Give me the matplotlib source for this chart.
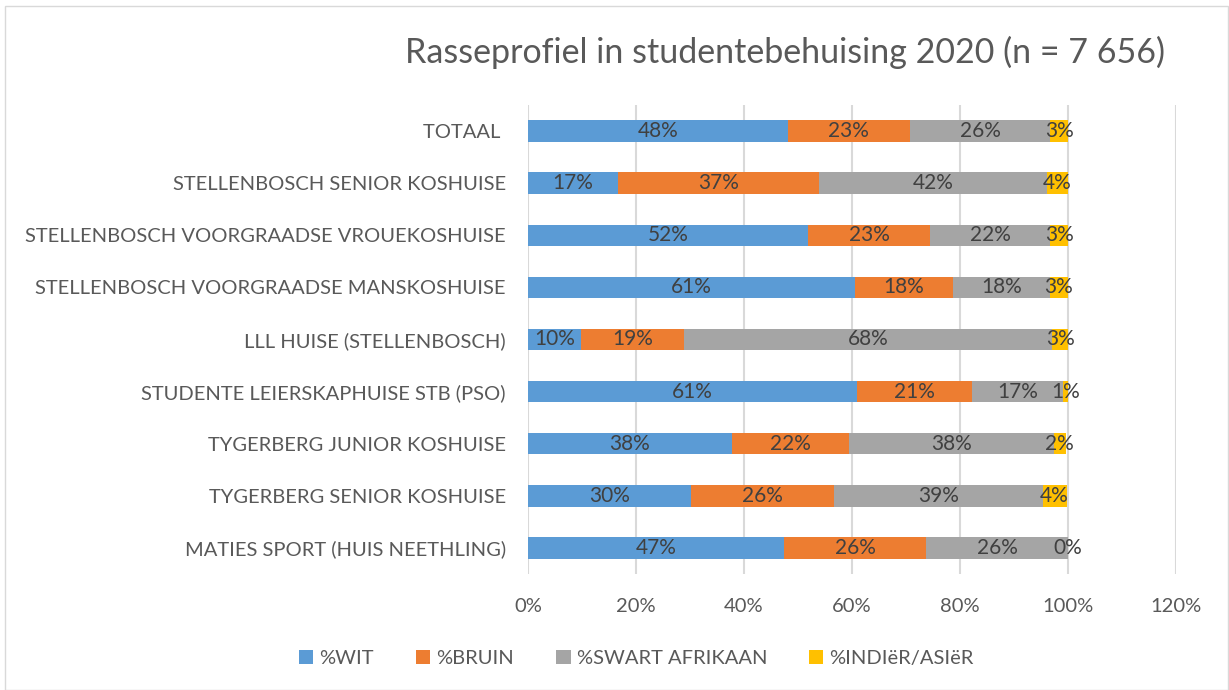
import matplotlib
matplotlib.use('Agg')
import matplotlib.pyplot as plt
import numpy as np

plt.rcParams['font.family'] = ['Lato', 'DejaVu Sans']

# koshuise, van bo na onder
koshuise = [
    'TOTAAL ',
    'STELLENBOSCH SENIOR KOSHUISE',
    'STELLENBOSCH VOORGRAADSE VROUEKOSHUISE',
    'STELLENBOSCH VOORGRAADSE MANSKOSHUISE',
    'LLL HUISE (STELLENBOSCH)',
    'STUDENTE LEIERSKAPHUISE STB (PSO)',
    'TYGERBERG JUNIOR KOSHUISE',
    'TYGERBERG SENIOR KOSHUISE',
    'MATIES SPORT (HUIS NEETHLING)',
]

# persentasies soos afgelees uit die grafiek
wit = [48.1, 16.6, 51.8, 60.6, 9.9, 61.0, 37.7, 30.2, 47.4]
bruin = [22.6, 37.2, 22.7, 18.0, 18.9, 21.2, 21.8, 26.4, 26.3]
swart = [26.0, 42.3, 22.2, 18.0, 68.3, 16.9, 37.8, 38.7, 26.3]
indier = [3.3, 3.9, 3.3, 3.4, 2.9, 0.9, 2.3, 4.4, 0.0]

reekse = ['%WIT', '%BRUIN', '%SWART AFRIKAAN', '%INDIëR/ASIëR']
kleure = ['#5b9bd5', '#ed7d31', '#a5a5a5', '#ffc000']

x_ticks = [0, 20, 40, 60, 80, 100, 120]

fig = plt.figure(figsize=(12.29, 6.9), dpi=100)
ax = fig.add_axes([0.4296, 0.168, 0.5274, 0.680])

y = np.arange(len(koshuise))
links = np.zeros(len(koshuise))
for naam, waardes, kleur in zip(reekse, [wit, bruin, swart, indier], kleure):
    waardes = np.array(waardes)
    ax.barh(y, waardes, left=links, height=0.41, color=kleur,
            label=naam, zorder=2)
    for i, w in enumerate(waardes):
        ax.text(links[i] + w / 2, y[i], '%.0f%%' % w, ha='center',
                va='center', fontsize=15, color='#404040', zorder=3)
    links = links + waardes

ax.set_xlim(0, 120)
ax.set_ylim(len(koshuise) - 0.5, -0.5)
ax.set_xticks(x_ticks)
ax.set_xticklabels(['%d%%' % t for t in x_ticks])
ax.set_yticks(y)
ax.set_yticklabels(koshuise)
ax.tick_params(axis='both', length=0, labelsize=14.5, colors='#595959')
ax.tick_params(axis='y', pad=16)
ax.tick_params(axis='x', pad=17)
ax.grid(axis='x', color='#d9d9d9', linewidth=1.5, zorder=0)
for s in ax.spines.values():
    s.set_visible(False)

fig.text(0.639, 0.924, 'Rasseprofiel in studentebehuising 2020 (n = 7 656)',
         ha='center', va='center', fontsize=24.5, color='#595959')

fig.legend(loc='center', bbox_to_anchor=(0.518, 0.045), ncol=4, frameon=False,
           fontsize=14.5, labelcolor='#595959', handlelength=0.7,
           handleheight=0.7, handletextpad=0.3, columnspacing=2.1)

fig.patches.append(plt.Rectangle((0.004, 0.0), 0.995, 0.991, fill=False,
                                 edgecolor='#d9d9d9', linewidth=1,
                                 transform=fig.transFigure, figure=fig))

fig.savefig('out.png', dpi=100)
